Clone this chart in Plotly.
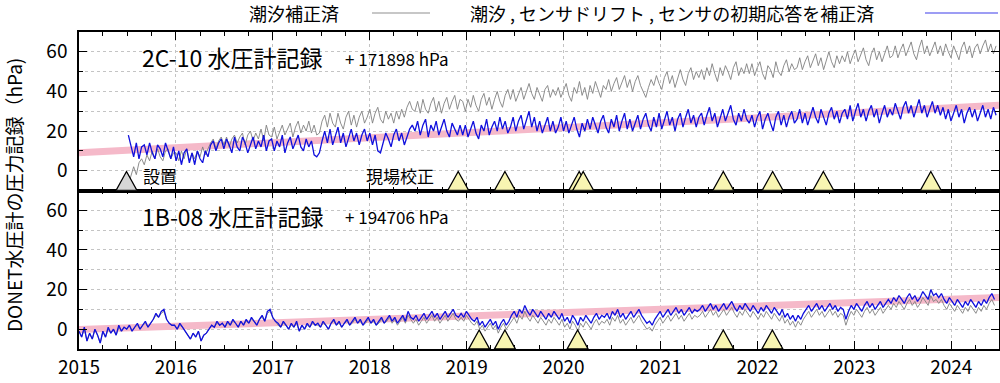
import pandas as pd
import plotly.graph_objects as go
from plotly.subplots import make_subplots

# ---------------- data ----------------
x_range = ["2015-01-01", "2024-06-29"]
year_ticks_start = "2015-01-01"

# 2C-10 (top panel), samples every 10 days starting 2015-07-06
top_start = "2015-07-06"
top_blue = [
    18, 13, 7, 14, 6, 12, 13, 8, 14, 9, 6, 13, 11, 7, 14, 10, 6, 12,
    5, 10, 3, 9, 11, 4, 9, 3, 10, 6, 4, 10, 7, 13, 15, 10, 14, 16,
    11, 16, 13, 9, 17, 12, 10, 17, 14, 9, 13, 17, 11, 15, 12, 18, 10, 15,
    16, 10, 15, 12, 18, 9, 14, 17, 11, 15, 18, 12, 10, 16, 12, 15, 8, 7,
    9, 15, 20, 14, 21, 13, 18, 22, 14, 19, 12, 17, 21, 15, 19, 13, 18, 21,
    15, 19, 13, 18, 10, 9, 14, 19, 16, 12, 18, 21, 15, 19, 13, 17, 21, 23,
    20, 25, 18, 23, 26, 17, 23, 20, 25, 18, 22, 26, 20, 17, 24, 21, 18, 23,
    18, 23, 17, 21, 25, 19, 16, 23, 20, 26, 18, 22, 25, 20, 27, 21, 25, 19,
    22, 27, 20, 25, 28, 21, 26, 30, 22, 27, 20, 25, 19, 23, 27, 20, 25, 19,
    22, 27, 20, 25, 19, 23, 27, 21, 17, 24, 20, 26, 21, 27, 23, 19, 25, 28,
    22, 19, 26, 22, 28, 20, 25, 29, 21, 26, 20, 24, 28, 21, 26, 29, 23, 20,
    27, 22, 29, 21, 25, 30, 23, 27, 20, 26, 29, 22, 27, 31, 24, 28, 22, 27,
    29, 23, 28, 32, 25, 29, 22, 27, 31, 25, 29, 33, 26, 23, 29, 25, 31, 26,
    24, 28, 22, 27, 30, 21, 26, 29, 24, 20, 27, 30, 23, 28, 22, 27, 30, 24,
    26, 31, 24, 29, 23, 28, 32, 27, 24, 31, 27, 23, 29, 32, 26, 30, 24, 29,
    31, 26, 33, 25, 30, 34, 27, 31, 25, 30, 33, 27, 31, 24, 29, 33, 27, 31,
    28, 34, 30, 26, 32, 35, 29, 33, 27, 32, 36, 29, 33, 27, 31, 35, 29, 33,
    28, 32, 26, 31, 25, 29, 33, 27, 31, 24, 29, 32, 27, 31, 25, 29, 33, 27,
    31, 26, 32, 28,
]
top_gray = [
    -7, -3, 2, -2, 4, 6, 3, 8, 5, 10, 6, 11, 7, 5, 10, 11, 6, 9,
    9, 5, 10, 6, 11, 5, 9, 6, 10, 7, 12, 8, 11, 14, 16, 11, 15, 17,
    13, 17, 12, 16, 18, 14, 17, 19, 13, 18, 20, 15, 19, 16, 21, 15, 23, 18,
    17, 22, 16, 20, 23, 18, 21, 24, 17, 22, 25, 19, 23, 20, 25, 19, 23, 18,
    19, 25, 28, 22, 29, 24, 22, 29, 24, 21, 27, 30, 23, 28, 22, 27, 30, 24,
    27, 31, 24, 29, 32, 26, 24, 30, 26, 29, 24, 30, 26, 31, 27, 32, 35, 31,
    30, 35, 29, 36, 31, 29, 34, 37, 30, 35, 29, 34, 37, 31, 35, 38, 31, 36,
    35, 30, 36, 32, 38, 33, 30, 36, 39, 33, 37, 31, 36, 40, 35, 32, 38, 41,
    36, 41, 35, 39, 42, 36, 40, 44, 39, 36, 42, 38, 35, 41, 43, 37, 41, 38,
    42, 37, 41, 44, 38, 35, 42, 39, 45, 38, 42, 36, 43, 39, 45, 41, 37, 43,
    41, 46, 40, 44, 47, 41, 45, 48, 42, 46, 40, 45, 48, 43, 40, 37, 42, 46,
    43, 48, 44, 41, 47, 50, 44, 48, 42, 46, 51, 46, 43, 49, 52, 46, 50, 47,
    51, 46, 52, 48, 54, 49, 45, 52, 48, 53, 50, 46, 52, 55, 48, 52, 49, 54,
    49, 54, 48, 52, 55, 49, 46, 53, 51, 47, 55, 50, 48, 53, 56, 50, 54, 51,
    52, 57, 51, 55, 58, 52, 56, 59, 53, 57, 51, 56, 60, 55, 52, 58, 54, 58,
    55, 60, 54, 58, 61, 55, 59, 62, 56, 53, 59, 62, 56, 60, 55, 59, 63, 57,
    58, 63, 57, 61, 64, 58, 62, 65, 59, 56, 62, 66, 59, 63, 58, 62, 65, 59,
    63, 58, 64, 60, 57, 63, 59, 56, 62, 65, 59, 63, 57, 62, 64, 59, 63, 66,
    60, 64, 59, 63,
]

# 1B-08 (bottom panel), samples every 10 days starting 2015-01-01
bot_start = "2015-01-01"
bot_blue = [
    -1, -4, 1, -6, -2, -5, 0, -3, -7, -1, -4, 1, -2, 0, -3, 2, -1, 1,
    0, 2, -1, 1, 3, 0, 2, 4, 1, 3, 5, 8, 6, 9, 10, 5, 3, 2,
    2, 0, 3, 1, -1, -3, -5, -2, -4, -1, -6, -3, -2, 0, 2, 1, 4, 2,
    3, 1, 4, 2, 5, 3, 1, 4, 2, 5, 3, 6, 4, 2, 5, 7, 4, 9,
    10, 6, 4, 3, 1, 4, 2, 0, 3, 1, 4, -1, 2, 0, 3, 1, 4, 2,
    3, 1, 4, 2, 0, 3, 5, 2, 4, 1, 3, 5, 2, 4, 6, 3, 5, 2,
    4, 6, 3, 5, 2, 4, 6, 3, 5, 7, 4, 6, 3, 5, 7, 4, 9, 6,
    5, 7, 4, 6, 8, 5, 7, 9, 6, 8, 5, 7, 9, 6, 8, 10, 7, 6,
    8, 6, 9, 7, 5, 4, 6, 2, 4, 1, 3, 5, 2, 4, 0, 3, 5, 2,
    4, 7, 9, 6, 10, 8, 12, 9, 7, 10, 8, 6, 9, 7, 5, 8, 6, 9,
    7, 5, 8, 4, 6, 3, 7, 5, 2, 6, 4, 7, 5, 3, 6, 8, 5, 7,
    6, 8, 5, 9, 7, 10, 6, 8, 5, 7, 9, 6, 8, 10, 7, 5, 3, 4,
    2, 5, 7, 9, 6, 8, 10, 7, 9, 11, 8, 10, 7, 9, 11, 8, 10, 9,
    10, 12, 9, 11, 13, 10, 12, 9, 11, 13, 10, 12, 14, 11, 9, 12, 10, 13,
    11, 9, 12, 10, 8, 11, 9, 12, 10, 8, 11, 9, 7, 10, 6, 8, 5, 7,
    4, 7, 5, 8, 10, 12, 9, 11, 13, 10, 12, 9, 11, 13, 10, 12, 9, 11,
    10, 5, 9, 12, 10, 13, 11, 9, 12, 14, 11, 13, 10, 12, 14, 11, 13, 15,
    13, 16, 14, 17, 15, 13, 16, 18, 15, 17, 14, 16, 19, 17, 15, 20, 17, 18,
    16, 18, 15, 13, 16, 14, 12, 15, 13, 11, 14, 12, 15, 13, 11, 14, 12, 15,
    13, 16, 18, 15,
]
bot_gray = [
    -1, -4, 0, -6, -2, -5, 0, -3, -7, -1, -4, 0, -2, 0, -3, 1, -1, 1,
    0, 2, -1, 1, 2, 0, 2, 3, 1, 3, 5, 7, 6, 8, 9, 5, 3, 2,
    2, 0, 2, 1, -1, -3, -5, -2, -4, -1, -6, -3, -2, 0, 2, 1, 3, 2,
    3, 1, 3, 2, 4, 3, 1, 4, 2, 4, 3, 5, 4, 2, 5, 6, 4, 8,
    9, 6, 4, 2, 1, 3, 2, 0, 2, 1, 3, -1, 2, 0, 2, 1, 3, 2,
    2, 1, 3, 2, 0, 3, 4, 2, 3, 1, 3, 4, 2, 3, 5, 3, 4, 2,
    3, 5, 3, 4, 2, 3, 5, 3, 4, 6, 3, 5, 2, 4, 6, 3, 7, 5,
    3, 5, 2, 4, 6, 3, 5, 7, 4, 6, 3, 5, 7, 4, 6, 8, 5, 4,
    6, 4, 7, 5, 3, 2, 4, 0, 2, -1, 1, 3, 0, 2, -2, 1, 3, 0,
    2, 4, 6, 3, 7, 5, 9, 6, 4, 7, 5, 3, 6, 4, 2, 5, 3, 6,
    4, 2, 5, 1, 3, 0, 4, 2, -1, 3, 1, 4, 2, 0, 3, 5, 2, 4,
    3, 5, 2, 6, 4, 7, 3, 5, 2, 4, 6, 3, 5, 7, 4, 2, 0, 1,
    -1, 2, 4, 6, 3, 5, 7, 4, 6, 8, 5, 7, 4, 6, 8, 5, 7, 6,
    7, 9, 6, 8, 10, 7, 9, 6, 8, 10, 7, 9, 11, 8, 6, 9, 7, 10,
    8, 6, 9, 7, 5, 8, 6, 9, 7, 5, 8, 6, 4, 7, 3, 5, 2, 4,
    1, 4, 2, 5, 7, 9, 6, 8, 10, 7, 9, 6, 8, 10, 7, 9, 6, 8,
    7, 2, 6, 9, 7, 10, 8, 6, 9, 11, 8, 10, 7, 9, 11, 8, 10, 12,
    10, 13, 11, 14, 12, 10, 13, 15, 12, 14, 11, 13, 16, 14, 12, 17, 14, 15,
    13, 15, 12, 10, 13, 11, 9, 12, 10, 8, 11, 9, 12, 10, 8, 11, 9, 12,
    10, 13, 15, 12,
]

# linear trend (pink) end points
trend_dates = ["2015-01-01", "2024-06-29"]
trend_top = [9.1, 33.0]
trend_bot = [-0.2, 16.0]

# events
install_top = ["2015-06-29"]
calib_top = ["2018-11-30", "2019-05-25", "2020-02-29", "2020-03-15",
             "2021-08-25", "2022-02-27", "2022-09-06", "2023-10-16"]
calib_bot = ["2019-02-17", "2019-05-25", "2020-02-23", "2021-08-25", "2022-02-26"]

y_tick_vals = [0, 20, 40, 60]
y_minor_vals = [10, 30, 50]
y_range = [-10, 70]

# ---------------- figure ----------------
W, H = 1000, 383
ML, MR, MT, MB = 79, 1, 32, 34
PW, PH = W - ML - MR, H - MT - MB


def pxx(x):
    return (x - ML) / PW


def pxy(y):
    return (H - MB - y) / PH


FONT = "Noto Sans CJK JP"
BLUE = "#1010dd"
GRAY = "#808080"
PINK = "#f5b9c9"
GRID = "#c4c4c4"

fig = make_subplots(rows=2, cols=1, shared_xaxes=True, vertical_spacing=0)

top_dates = pd.date_range(top_start, periods=len(top_blue), freq="10D")
bot_dates = pd.date_range(bot_start, periods=len(bot_blue), freq="10D")

for row, tr, dts, gray, blue in [
    (1, trend_top, top_dates, top_gray, top_blue),
    (2, trend_bot, bot_dates, bot_gray, bot_blue),
]:
    fig.add_trace(go.Scatter(x=trend_dates, y=tr, mode="lines",
                             line=dict(color=PINK, width=7), showlegend=False,
                             hoverinfo="skip"), row=row, col=1)
    fig.add_trace(go.Scatter(x=dts, y=gray, mode="lines",
                             line=dict(color=GRAY, width=0.9), showlegend=False,
                             name="潮汐補正済"), row=row, col=1)
    fig.add_trace(go.Scatter(x=dts, y=blue, mode="lines",
                             line=dict(color=BLUE, width=1.3), showlegend=False,
                             name="潮汐 , センサドリフト , センサの初期応答を補正済"),
                  row=row, col=1)

xcommon = dict(
    type="date", range=x_range, tickmode="linear", tick0=year_ticks_start,
    dtick="M12", tickformat="%Y", ticks="inside", ticklen=8, tickwidth=1.2,
    tickcolor="black", showline=True, linecolor="black", linewidth=1.5,
    mirror="ticks", showgrid=True, gridcolor=GRID, griddash="dot", gridwidth=1,
    zeroline=False, tickfont=dict(size=19, color="black"), automargin=False,
    minor=dict(tickmode="linear", tick0=year_ticks_start, dtick="M3",
               ticks="inside", ticklen=4, tickwidth=1, tickcolor="black",
               showgrid=False),
)
ycommon = dict(
    range=y_range, tickmode="array", tickvals=y_tick_vals, ticks="inside",
    ticklen=8, tickwidth=1.2, tickcolor="black", showline=True,
    linecolor="black", linewidth=1.5, mirror="ticks", showgrid=True,
    gridcolor=GRID, griddash="dot", gridwidth=1, zeroline=False,
    tickfont=dict(size=19, color="black"), ticklabelstandoff=6, automargin=False,
    minor=dict(tickmode="array", tickvals=y_minor_vals, ticks="inside",
               ticklen=4, tickwidth=1, tickcolor="black", showgrid=True,
               gridcolor=GRID, griddash="dot", gridwidth=1),
)
fig.update_xaxes(**xcommon)
fig.update_xaxes(showticklabels=False, row=1, col=1)
fig.update_xaxes(ticklabelstandoff=0, row=2, col=1)
fig.update_yaxes(**ycommon)

# event triangles
TRI = "M-10.5,0 L10.5,0 L0,19 Z"
for d in install_top:
    fig.add_shape(type="path", xref="x", yref="y", xsizemode="pixel",
                  ysizemode="pixel", xanchor=d, yanchor=y_range[0], path=TRI,
                  fillcolor="#d6d6d6", line=dict(color="black", width=1.3),
                  layer="above")
for d in calib_top:
    fig.add_shape(type="path", xref="x", yref="y", xsizemode="pixel",
                  ysizemode="pixel", xanchor=d, yanchor=y_range[0], path=TRI,
                  fillcolor="#f8f5b2", line=dict(color="black", width=1.3),
                  layer="above")
for d in calib_bot:
    fig.add_shape(type="path", xref="x2", yref="y2", xsizemode="pixel",
                  ysizemode="pixel", xanchor=d, yanchor=y_range[0], path=TRI,
                  fillcolor="#f8f5b2", line=dict(color="black", width=1.3),
                  layer="above")

# legend (text then line sample, as in the original)
fig.add_shape(type="line", xref="paper", yref="paper", x0=pxx(372), x1=pxx(430),
              y0=pxy(13), y1=pxy(13), line=dict(color="#b5b5b5", width=1.5))
fig.add_shape(type="line", xref="paper", yref="paper", x0=pxx(925), x1=pxx(998),
              y0=pxy(13), y1=pxy(13), line=dict(color="#7d7df0", width=1.5))


def ann(text, x, y, size, xanchor="left", angle=0):
    fig.add_annotation(text=text, x=pxx(x), y=pxy(y), xref="paper", yref="paper",
                       xanchor=xanchor, yanchor="middle", showarrow=False,
                       textangle=angle, font=dict(size=size, color="black", family=FONT))


ann("潮汐補正済", 247, 13, 18)
ann("潮汐 , センサドリフト , センサの初期応答を補正済", 468, 13, 18)
ann("2C-10 水圧計記録", 140, 57, 23)
ann("+ 171898 hPa", 343, 58, 17)
ann("1B-08 水圧計記録", 140, 216, 23)
ann("+ 194706 hPa", 343, 217, 17)
ann("設置", 141, 175, 17)
ann("現場校正", 364, 175, 17)
ann("DONET水圧計の圧力記録（hPa)", 13, 195, 19, xanchor="center", angle=-90)

fig.update_layout(
    width=W, height=H, margin=dict(l=ML, r=MR, t=MT, b=MB, autoexpand=False),
    plot_bgcolor="white", paper_bgcolor="white",
    font=dict(family=FONT, color="black"), showlegend=False,
)

fig.write_html(
    "out.html",
    config={"displayModeBar": False},
    post_script="document.body.style.margin='0';document.body.style.padding='0';",
)
